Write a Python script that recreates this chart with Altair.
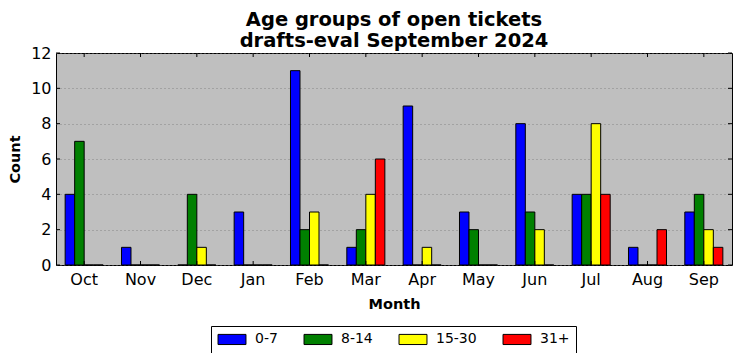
import altair as alt
import pandas as pd

months = ["Oct", "Nov", "Dec", "Jan", "Feb", "Mar", "Apr", "May", "Jun", "Jul", "Aug", "Sep"]
groups = ["0-7", "8-14", "15-30", "31+"]
colors = ["#0000ff", "#008000", "#ffff00", "#ff0000"]
v_0_7 = [4, 1, 0, 3, 11, 1, 9, 3, 8, 4, 1, 3]
v_8_14 = [7, 0, 4, 0, 2, 2, 0, 2, 3, 4, 0, 4]
v_15_30 = [0, 0, 1, 0, 3, 4, 1, 0, 2, 8, 0, 2]
v_31 = [0, 0, 0, 0, 0, 6, 0, 0, 0, 4, 2, 1]
y_ticks = [0, 2, 4, 6, 8, 10, 12]

series = [v_0_7, v_8_14, v_15_30, v_31]
rows = []
for g, vals in zip(groups, series):
    for m, v in zip(months, vals):
        rows.append({"Month": m, "Group": g, "Count": v})
df = pd.DataFrame(rows)
ticks_df = pd.DataFrame({"Month": months})
yt_df = pd.DataFrame({"Count": y_ticks})

W, H = 676, 212
FONT = "DejaVu Sans"
pi = 0.325

xscale = alt.Scale(domain=months, paddingInner=pi, paddingOuter=pi / 2)
yscale = alt.Scale(domain=[0, 12], nice=False)

x_axis = alt.Axis(title="Month", labelAngle=0, tickSize=0, domain=False,
                  labelFontSize=16, labelPadding=6, titleFontSize=14.5,
                  titleFontWeight="bold", titlePadding=10, labelColor="black",
                  titleColor="black", labelFont=FONT, titleFont=FONT)
y_axis = alt.Axis(title="Count", values=y_ticks, tickSize=0, domain=False,
                  grid=True, gridColor="#777777", gridDash=[1, 3], gridWidth=0.8,
                  labelFontSize=16, labelPadding=5, titleFontSize=14.5,
                  titleFontWeight="bold", titlePadding=8, labelColor="black",
                  titleColor="black", labelFont=FONT, titleFont=FONT,
                  labelOverlap=False)

bars = alt.Chart(df).mark_bar(stroke="black", strokeWidth=1, opacity=1).encode(
    x=alt.X("Month:N", sort=months, scale=xscale, axis=x_axis),
    y=alt.Y("Count:Q", scale=yscale, axis=y_axis),
    xOffset=alt.XOffset("Group:N", sort=groups),
    color=alt.Color("Group:N", sort=groups,
                    scale=alt.Scale(domain=groups, range=colors),
                    legend=alt.Legend(title=None, orient="none", direction="horizontal",
                                      legendX=155, legendY=273,
                                      strokeColor="black", padding=6,
                                      symbolType="M-2.15,-0.78L2.15,-0.78L2.15,0.78L-2.15,0.78Z",
                                      symbolSize=169, symbolStrokeColor="black",
                                      symbolStrokeWidth=1, symbolOpacity=1,
                                      symbolOffset=8,
                                      labelFontSize=14, labelFont=FONT, labelColor="black",
                                      labelOffset=16, columnPadding=24,
                                      fillColor="white")),
)

xt_bottom = alt.Chart(ticks_df).mark_rule(color="black", strokeWidth=1).encode(
    x=alt.X("Month:N", sort=months, scale=xscale, axis=x_axis),
    y=alt.value(H), y2=alt.value(H - 4))
xt_top = alt.Chart(ticks_df).mark_rule(color="black", strokeWidth=1).encode(
    x=alt.X("Month:N", sort=months, scale=xscale, axis=x_axis),
    y=alt.value(0), y2=alt.value(4))
yt_left = alt.Chart(yt_df).mark_rule(color="black", strokeWidth=1).encode(
    y=alt.Y("Count:Q", scale=yscale, axis=y_axis), x=alt.value(0), x2=alt.value(4))
yt_right = alt.Chart(yt_df).mark_rule(color="black", strokeWidth=1).encode(
    y=alt.Y("Count:Q", scale=yscale, axis=y_axis), x=alt.value(W - 4), x2=alt.value(W))

chart = alt.layer(bars, xt_bottom, xt_top, yt_left, yt_right).properties(
    width=W, height=H,
    background="white",
    autosize=alt.AutoSizeParams(type="none"),
    padding={"left": 48, "right": 1, "top": 45, "bottom": 88},
    title=alt.Title(["Age groups of open tickets", "drafts-eval September 2024"],
                    fontSize=19.5, font=FONT, fontWeight="bold", anchor="middle",
                    lineHeight=21, offset=-6, color="black"),
).configure_view(
    fill="#bfbfbf", stroke="black", strokeWidth=1
)

chart.save("out.html", embed_options={"renderer": "svg", "actions": False})
